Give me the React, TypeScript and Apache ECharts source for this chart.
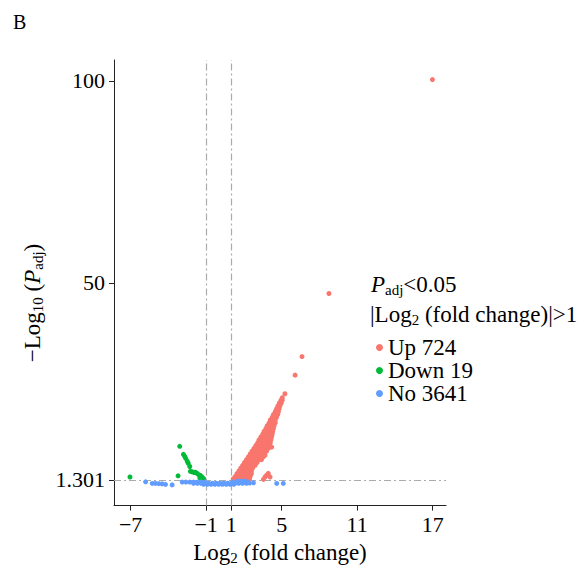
import React, { useEffect, useRef } from "react";
import * as echarts from "echarts";

// ---- data ----
const xTicks = [-7, -1, 1, 5, 11, 17];
const yTicks = [1.301, 50, 100];
const foldCutoffs = [-1, 1];
const padjCutoff = 1.301;
const legendNames = ["Up 724", "Down 19", "No 3641"];
const groupColors = ["#F8766D", "#00BA38", "#619CFF"];

const upPoints: number[][] = [
  [1.15, 1.5], [1.4, 1.5], [1.65, 1.5], [1.9, 1.5], [2.15, 1.5], [2.4, 1.5],
  [1.3, 2.1], [1.55, 2.1], [1.8, 2.1], [2.05, 2.1], [2.3, 2.1], [2.5, 2.1],
  [1.45, 2.8], [1.7, 2.8], [1.95, 2.8], [2.2, 2.8], [2.45, 2.8], [2.6, 2.8],
  [1.6, 3.5], [1.85, 3.5], [2.1, 3.5], [2.35, 3.5], [2.6, 3.5],
  [1.75, 4.2], [2.0, 4.2], [2.25, 4.2], [2.5, 4.2], [2.7, 4.2],
  [1.9, 4.9], [2.15, 4.9], [2.4, 4.9], [2.65, 4.9], [2.9, 4.9],
  [2.05, 5.6], [2.3, 5.6], [2.55, 5.6], [2.8, 5.6], [3.05, 5.6],
  [2.2, 6.3], [2.45, 6.3], [2.7, 6.3], [2.95, 6.3], [3.2, 6.3], [3.4, 6.3],
  [2.35, 7.0], [2.6, 7.0], [2.85, 7.0], [3.1, 7.0], [3.35, 7.0], [3.55, 7.0],
  [2.5, 7.7], [2.75, 7.7], [3.0, 7.7], [3.25, 7.7], [3.5, 7.7], [3.65, 7.7],
  [2.65, 8.4], [2.9, 8.4], [3.15, 8.4], [3.4, 8.4], [3.65, 8.4], [3.8, 8.4],
  [2.8, 9.1], [3.05, 9.1], [3.3, 9.1], [3.55, 9.1], [3.8, 9.1], [3.95, 9.1],
  [2.95, 9.8], [3.2, 9.8], [3.45, 9.8], [3.7, 9.8], [3.95, 9.8], [4.05, 9.8],
  [3.1, 10.5], [3.35, 10.5], [3.6, 10.5], [3.85, 10.5], [4.1, 10.5],
  [3.2, 11.2], [3.45, 11.2], [3.7, 11.2], [3.95, 11.2], [4.15, 11.2],
  [3.35, 11.9], [3.6, 11.9], [3.85, 11.9], [4.1, 11.9], [4.2, 11.9],
  [3.5, 12.6], [3.75, 12.6], [4.0, 12.6], [4.25, 12.6],
  [3.6, 13.3], [3.85, 13.3], [4.1, 13.3], [4.3, 13.3],
  [3.75, 14.0], [4.0, 14.0], [4.2, 14.0], [4.35, 14.0],
  [3.85, 14.7], [4.1, 14.7], [4.3, 14.7], [4.4, 14.7],
  [4.0, 15.4], [4.2, 15.4], [4.4, 15.4], [4.5, 15.4],
  [4.1, 16.1], [4.3, 16.1], [4.5, 16.1],
  [4.25, 16.8], [4.45, 16.8], [4.6, 16.8],
  [4.35, 17.5], [4.55, 17.5], [4.7, 17.5],
  [4.5, 18.2], [4.65, 18.2], [4.75, 18.2],
  [4.6, 18.9], [4.8, 18.9],
  [4.7, 19.6], [4.87, 19.6],
  [4.82, 20.3], [4.97, 20.3],
  [4.95, 21.0], [5.05, 21.0],
  [5.05, 21.6], [5.26, 22.6],
  [6.07, 27.2], [6.62, 31.8], [8.76, 47.4], [16.98, 100.3],
  [4.21, 9.4], [3.68, 7.4], [3.94, 2.9], [3.68, 2.0], [4.08, 2.0],
  [3.55, 1.4], [3.81, 2.45], [2.44, 1.5],
];

const downPoints: number[][] = [
  [-7.05, 2.0], [-3.23, 2.3], [-3.1, 9.6], [-2.8, 7.6], [-2.7, 7.1],
  [-2.62, 6.6], [-2.5, 5.9], [-2.42, 5.4], [-2.3, 4.6], [-2.25, 3.4],
  [-2.12, 3.3], [-1.95, 3.1], [-1.86, 3.2], [-1.72, 2.9], [-1.6, 2.6],
  [-1.46, 2.4], [-1.33, 2.0], [-1.2, 1.6], [-1.5, 1.8],
];

const noPoints: number[][] = [
  [-5.81, 0.81], [-5.28, 0.42], [-5.02, 0.42], [-4.76, 0.35], [-4.5, 0.3],
  [-4.23, 0.17], [-3.7, 0.05], [2.76, 0.57], [2.45, 0.5], [4.61, 0.42], [5.13, 0.42],
  [-1.2, 0.2], [-0.9, 0.2], [-0.6, 0.2], [-0.3, 0.2], [0, 0.2], [0.3, 0.2],
  [0.6, 0.2], [0.9, 0.2], [1.2, 0.2],
  [-2.0, 0.45], [-1.7, 0.45], [-1.4, 0.45], [-1.1, 0.45], [-0.8, 0.45],
  [-0.5, 0.45], [-0.2, 0.45], [0.1, 0.45], [0.4, 0.45], [0.7, 0.45],
  [1.0, 0.45], [1.3, 0.45], [1.6, 0.45], [1.9, 0.45], [2.2, 0.45],
  [-2.9, 0.75], [-2.6, 0.75], [-2.3, 0.75], [-2.0, 0.75], [-1.7, 0.75],
  [-1.4, 0.75], [-1.1, 0.75], [1.1, 0.75], [1.4, 0.75], [1.7, 0.75],
  [2.0, 0.75], [2.3, 0.75],
  [1.5, 1.0], [1.8, 1.0], [2.1, 1.0],
];

const FONT = '"Liberation Serif", "Times New Roman", serif';

const fmt = (v: number) => (v < 0 ? "\u2212" + Math.abs(v) : String(v));

const richStyles = (size: number, subSize: number) => ({
  n: { fontFamily: FONT, fontSize: size, lineHeight: 26, color: "#000", fill: "#000" },
  i: { fontFamily: FONT, fontSize: size, lineHeight: 26, color: "#000", fill: "#000", fontStyle: "italic" },
  s: { fontFamily: FONT, fontSize: subSize, lineHeight: subSize, color: "#000", fill: "#000", verticalAlign: "bottom" },
});

export default function App() {
  const ref = useRef<HTMLDivElement>(null);
  useEffect(() => {
    if (!ref.current) return;
    const chart = echarts.init(ref.current, null, { renderer: "svg" });
    const axisColor = "#222";
    const option: any = {
      animation: false,
      grid: { left: 114, top: 60, width: 332, height: 450, containLabel: false },
      xAxis: {
        type: "value",
        min: -8.32,
        max: 18.06,
        splitLine: { show: false },
        axisLine: { show: true, onZero: false, lineStyle: { color: axisColor, width: 1 } },
        axisTick: { show: true, inside: false, length: 5, customValues: xTicks, lineStyle: { color: axisColor } },
        axisLabel: { customValues: xTicks, formatter: fmt, fontFamily: FONT, fontSize: 22, color: "#000", margin: 8 },
        name: "{n|Log}{s|2}{n| (fold change)}",
        nameLocation: "middle",
        nameGap: 32,
        nameTextStyle: { rich: richStyles(23, 15) },
      },
      yAxis: {
        type: "value",
        min: -5.07,
        max: 105.15,
        splitLine: { show: false },
        axisLine: { show: true, onZero: false, lineStyle: { color: axisColor, width: 1 } },
        axisTick: { show: true, inside: false, length: 5, customValues: yTicks, lineStyle: { color: axisColor } },
        axisLabel: { customValues: yTicks, formatter: (v: number) => String(v), fontFamily: FONT, fontSize: 22, color: "#000", margin: 9 },
      },
      legend: {
        data: legendNames,
        orient: "vertical",
        left: 371,
        top: 331,
        itemWidth: 7,
        itemHeight: 7,
        itemGap: 0,
        icon: "circle",
        selectedMode: false,
        textStyle: { fontFamily: FONT, fontSize: 23, color: "#000", lineHeight: 20 },
      },
      graphic: [
        {
          type: "text",
          x: 13,
          y: 21.7,
          style: { text: "B", fontFamily: FONT, fontSize: 20, fill: "#000", verticalAlign: "middle", align: "left" },
        },
        {
          type: "text",
          x: 32,
          y: 303,
          rotation: Math.PI / 2,
          style: {
            text: "{n|\u2212Log}{s|10}{n| (}{i|P}{s|adj}{n|)}",
            verticalAlign: "middle",
            align: "center",
            rich: richStyles(23, 15),
          },
        },
        {
          type: "text",
          x: 371,
          y: 284,
          style: {
            text: "{i|P}{s|adj}{n|<0.05}",
            verticalAlign: "middle",
            align: "left",
            rich: richStyles(23, 15),
          },
        },
        {
          type: "text",
          x: 370,
          y: 314,
          style: {
            text: "{n||Log}{s|2}{n| (fold change)|>1}",
            verticalAlign: "middle",
            align: "left",
            rich: richStyles(23, 15),
          },
        },
      ],
      series: [
        {
          type: "scatter",
          data: [],
          silent: true,
          z: 1,
          markLine: {
            silent: true,
            z: 1,
            symbol: ["none", "none"],
            label: { show: false },
            lineStyle: { color: "#ABABAB", width: 1.2, type: [7, 3, 2, 3] },
            data: [
              { xAxis: foldCutoffs[0] },
              { xAxis: foldCutoffs[1] },
              { yAxis: padjCutoff },
            ],
          },
        },
        {
          type: "scatter",
          name: legendNames[0],
          data: upPoints,
          symbolSize: 5,
          z: 2,
          itemStyle: { color: groupColors[0], opacity: 1 },
        },
        {
          type: "scatter",
          name: legendNames[1],
          data: downPoints,
          symbolSize: 5,
          z: 2,
          itemStyle: { color: groupColors[1], opacity: 1 },
        },
        {
          type: "scatter",
          name: legendNames[2],
          data: noPoints,
          symbolSize: 5,
          z: 2,
          itemStyle: { color: groupColors[2], opacity: 1 },
        },
      ],
    };
    chart.setOption(option);
    return () => chart.dispose();
  }, []);
  return (
    <div
      ref={ref}
      style={{ position: "fixed", left: 0, top: 0, width: 587, height: 570, background: "#fff" }}
    />
  );
}
